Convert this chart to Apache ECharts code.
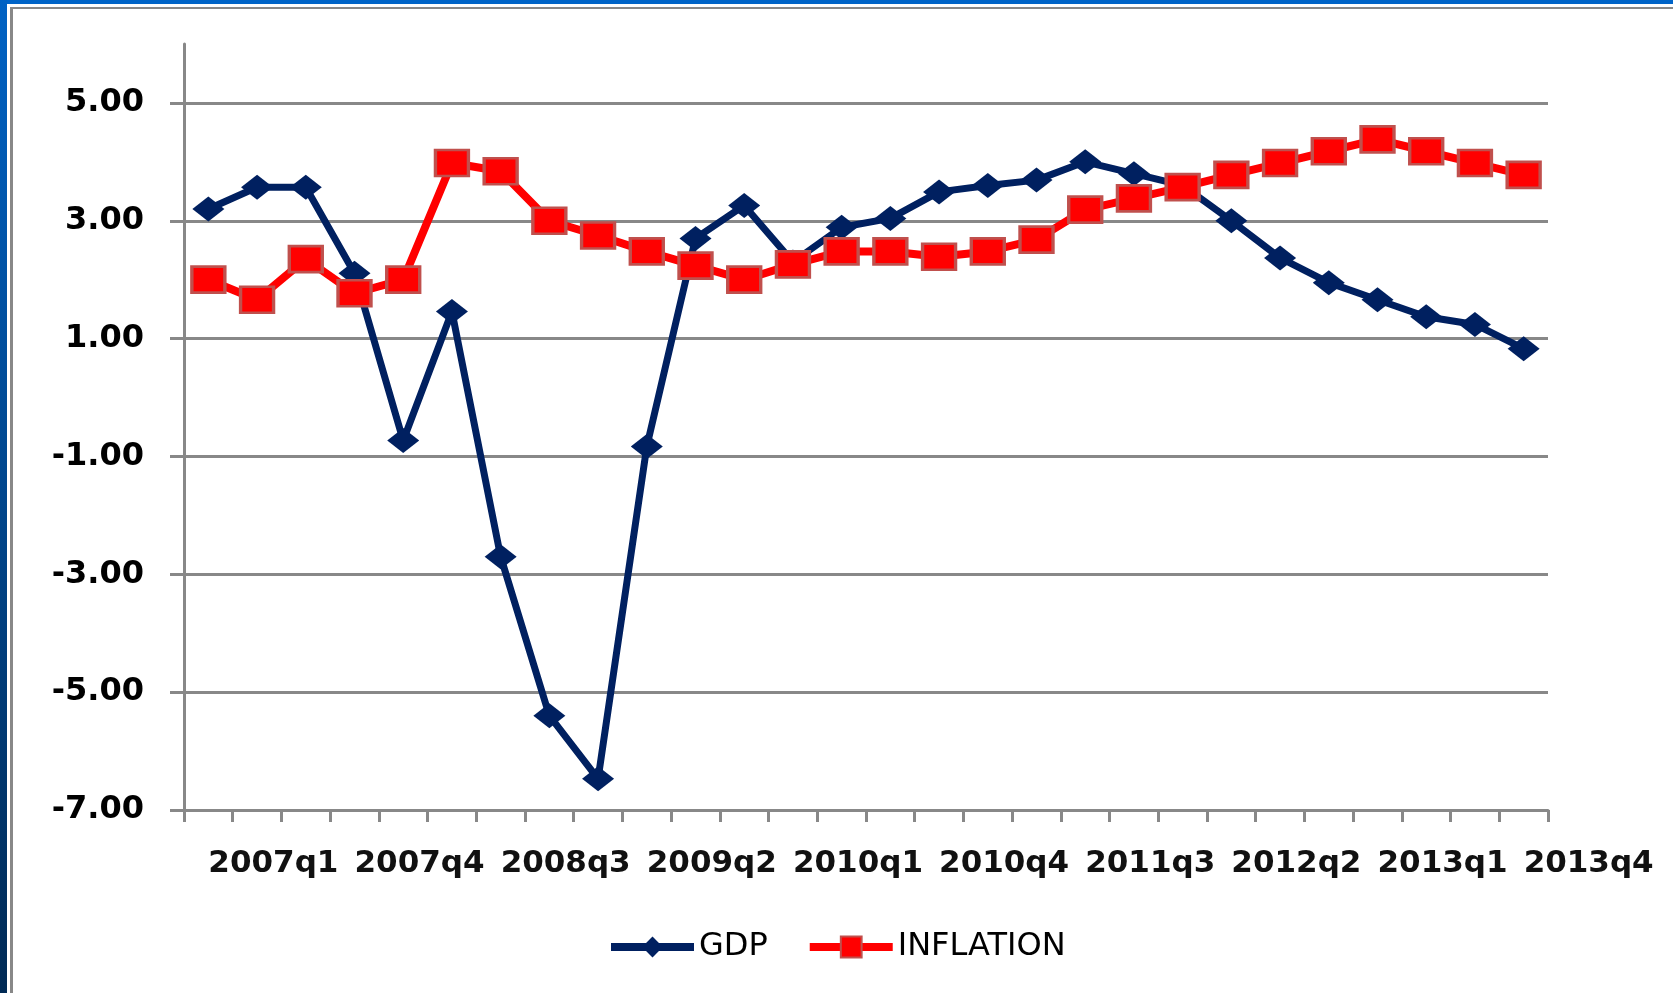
<!DOCTYPE html>
<html>
<head>
<meta charset="utf-8">
<style>
  html, body { margin: 0; padding: 0; background: #fff; }
  #main { width: 1673px; height: 993px; }
</style>
<script src="https://cdn.jsdelivr.net/npm/echarts@6/dist/echarts.min.js"></script>
</head>
<body>
<div id="main"></div>
<script>
// quarters 2007q1 .. 2013q4
var quarters = [
  '2007q1', '2007q2', '2007q3', '2007q4',
  '2008q1', '2008q2', '2008q3', '2008q4',
  '2009q1', '2009q2', '2009q3', '2009q4',
  '2010q1', '2010q2', '2010q3', '2010q4',
  '2011q1', '2011q2', '2011q3', '2011q4',
  '2012q1', '2012q2', '2012q3', '2012q4',
  '2013q1', '2013q2', '2013q3', '2013q4'
];

var gdp = [
  3.20, 3.57, 3.57, 2.11,
  -0.73, 1.46, -2.70, -5.40,
  -6.47, -0.83, 2.70, 3.26,
  2.30, 2.89, 3.04, 3.49,
  3.60, 3.69, 4.00, 3.80,
  3.60, 3.00, 2.37, 1.95,
  1.66, 1.37, 1.24, 0.83
];

var inflation = [
  2.00, 1.66, 2.35, 1.77,
  2.00, 3.98, 3.84, 3.00,
  2.75, 2.48, 2.24, 2.00,
  2.26, 2.48, 2.48, 2.39,
  2.48, 2.68, 3.19, 3.38,
  3.57, 3.78, 3.98, 4.18,
  4.38, 4.18, 3.98, 3.78
];

var yTicks = [-7, -5, -3, -1, 1, 3, 5];

var chart = echarts.init(document.getElementById('main'));
var gray = '#888888';

var option = {
  animation: false,
  backgroundColor: '#ffffff',
  graphic: [
    // slide frame
    { type: 'rect', shape: { x: 0, y: 0, width: 1673, height: 4 }, style: { fill: '#0064c8' }, silent: true },
    {
      type: 'rect', shape: { x: 0, y: 0, width: 7, height: 993 }, silent: true,
      style: {
        fill: new echarts.graphic.LinearGradient(0, 0, 0, 1, [
          { offset: 0, color: '#0062c4' },
          { offset: 1, color: '#002a55' }
        ])
      }
    },
    { type: 'rect', shape: { x: 10, y: 7, width: 1663, height: 2 }, style: { fill: gray }, silent: true },
    { type: 'rect', shape: { x: 10, y: 7, width: 3, height: 986 }, style: { fill: gray }, silent: true }
  ],
  grid: {
    left: 184,
    right: 125,
    top: 44,
    bottom: 183,
    containLabel: false
  },
  legend: {
    left: 602,
    top: 926,
    itemWidth: 83,
    itemHeight: 26,
    itemGap: 38,
    lineStyle: { width: 8 },
    textStyle: {
      fontFamily: 'DejaVu Sans',
      fontSize: 32,
      color: '#000'
    },
    data: ['GDP', 'INFLATION']
  },
  xAxis: {
    type: 'category',
    data: quarters,
    boundaryGap: true,
    axisLine: { onZero: false, lineStyle: { color: gray, width: 3 } },
    axisTick: { show: true, interval: 0, length: 12, lineStyle: { color: gray, width: 3 } },
    axisLabel: {
      interval: 2,
      align: 'left',
      margin: 38,
      fontFamily: 'DejaVu Sans',
      fontWeight: 'bold',
      fontSize: 31,
      color: '#111'
    },
    splitLine: { show: false }
  },
  yAxis: {
    type: 'value',
    min: -7,
    max: 6,
    interval: 2,
    axisLine: { show: true, lineStyle: { color: gray, width: 3 } },
    axisTick: { show: true, length: 14, customValues: yTicks, lineStyle: { color: gray, width: 3 } },
    axisLabel: {
      customValues: yTicks,
      margin: 40,
      fontFamily: 'DejaVu Sans',
      fontWeight: 'bold',
      fontSize: 32,
      color: '#000',
      formatter: function (v) { return v.toFixed(2); }
    },
    splitLine: { show: true, lineStyle: { color: gray, width: 3 } }
  },
  series: [
    {
      name: 'GDP',
      type: 'line',
      data: gdp,
      symbol: 'diamond',
      symbolSize: [32, 25],
      color: '#002060',
      lineStyle: { color: '#002060', width: 7 },
      itemStyle: { color: '#002060' }
    },
    {
      name: 'INFLATION',
      type: 'line',
      data: inflation,
      symbol: 'rect',
      symbolSize: [33, 26],
      color: '#ff0000',
      lineStyle: { color: '#ff0000', width: 8 },
      itemStyle: { color: '#ff0000', borderColor: '#c0504d', borderWidth: 3 }
    }
  ]
};

chart.setOption(option);
</script>
</body>
</html>
